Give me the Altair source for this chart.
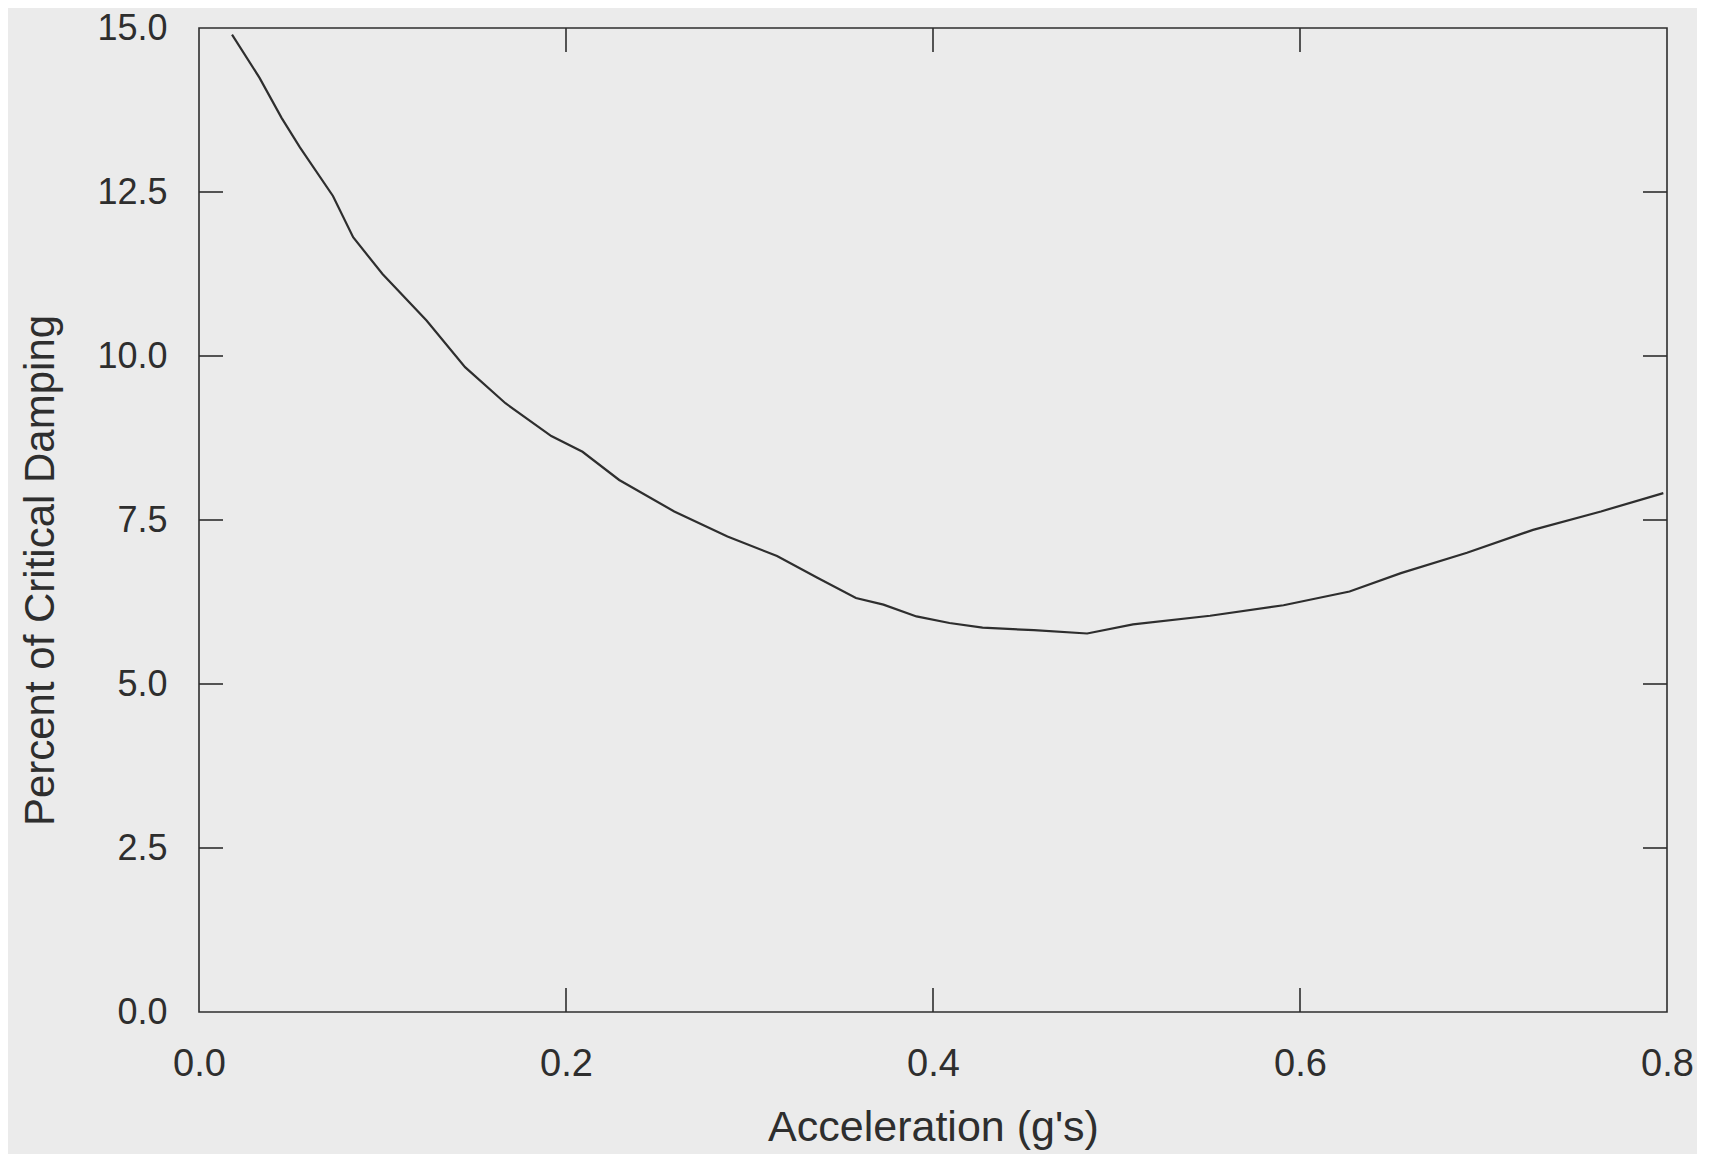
import altair as alt
import pandas as pd

# Curve
accel = [0.018, 0.033, 0.045, 0.055, 0.073, 0.084, 0.100, 0.124, 0.145, 0.167,
         0.192, 0.209, 0.229, 0.259, 0.288, 0.315, 0.337, 0.358, 0.373, 0.391,
         0.409, 0.427, 0.455, 0.484, 0.509, 0.551, 0.591, 0.627, 0.655, 0.691,
         0.727, 0.764, 0.798]
damping = [14.90, 14.24, 13.63, 13.18, 12.44, 11.81, 11.25, 10.54, 9.83, 9.28,
           8.78, 8.54, 8.11, 7.63, 7.25, 6.95, 6.62, 6.31, 6.21, 6.03,
           5.93, 5.86, 5.82, 5.77, 5.91, 6.04, 6.20, 6.41, 6.69, 7.00,
           7.35, 7.63, 7.91]

x_ticks = [0.0, 0.2, 0.4, 0.6, 0.8]
y_ticks = [0.0, 2.5, 5.0, 7.5, 10.0, 12.5, 15.0]
x_inner_ticks = [0.2, 0.4, 0.6]
y_inner_ticks = [2.5, 5.0, 7.5, 10.0, 12.5]

W, H = 1468, 984
TICK = 24
BG = "#ebebeb"
INK = "#2e2e2e"
FONT = "Liberation Sans"

curve = pd.DataFrame({"a": accel, "d": damping})
xt = pd.DataFrame({"t": x_inner_ticks})
yt = pd.DataFrame({"t": y_inner_ticks})

xscale = alt.Scale(domain=[0, 0.8], nice=False, zero=False)
yscale = alt.Scale(domain=[0, 15], nice=False, zero=False)

line = alt.Chart(curve).mark_line(color=INK, strokeWidth=2.2).encode(
    x=alt.X("a:Q", scale=xscale,
            axis=alt.Axis(title="Acceleration (g's)", values=x_ticks, format=".1f",
                          ticks=False, domain=False, grid=False,
                          labelFont=FONT, labelFontSize=38, labelColor=INK,
                          labelPadding=33, labelFlush=False,
                          titleFont=FONT, titleFontSize=43, titleFontWeight="normal",
                          titleColor=INK, titleBaseline="alphabetic", titleY=128)),
    y=alt.Y("d:Q", scale=yscale,
            axis=alt.Axis(title="Percent of Critical Damping", values=y_ticks, format=".1f",
                          ticks=False, domain=False, grid=False,
                          labelFont=FONT, labelFontSize=36, labelColor=INK,
                          labelPadding=32, labelFlush=False,
                          titleFont=FONT, titleFontSize=42, titleFontWeight="normal",
                          titleColor=INK, titleAngle=270, titleAlign="center",
                          titleBaseline="alphabetic", titleX=-146, titleY=542)),
)

tick_style = dict(color=INK, strokeWidth=1.6)

bottom_ticks = alt.Chart(xt).mark_rule(**tick_style).encode(
    x=alt.X("t:Q", scale=xscale), y=alt.value(H), y2=alt.value(H - TICK))
top_ticks = alt.Chart(xt).mark_rule(**tick_style).encode(
    x=alt.X("t:Q", scale=xscale), y=alt.value(0), y2=alt.value(TICK))
left_ticks = alt.Chart(yt).mark_rule(**tick_style).encode(
    y=alt.Y("t:Q", scale=yscale), x=alt.value(0), x2=alt.value(TICK))
right_ticks = alt.Chart(yt).mark_rule(**tick_style).encode(
    y=alt.Y("t:Q", scale=yscale), x=alt.value(W), x2=alt.value(W - TICK))

chart = alt.layer(line, bottom_ticks, top_ticks, left_ticks, right_ticks).properties(
    width=W, height=H,
    autosize=alt.AutoSizeParams(type="none"),
    padding={"left": 191, "top": 20, "right": 30, "bottom": 142},
    background=BG,
).configure_view(
    stroke=INK, strokeWidth=1.6, fill=BG
)

chart.save("out.html", embed_options={"renderer": "svg", "actions": False})
